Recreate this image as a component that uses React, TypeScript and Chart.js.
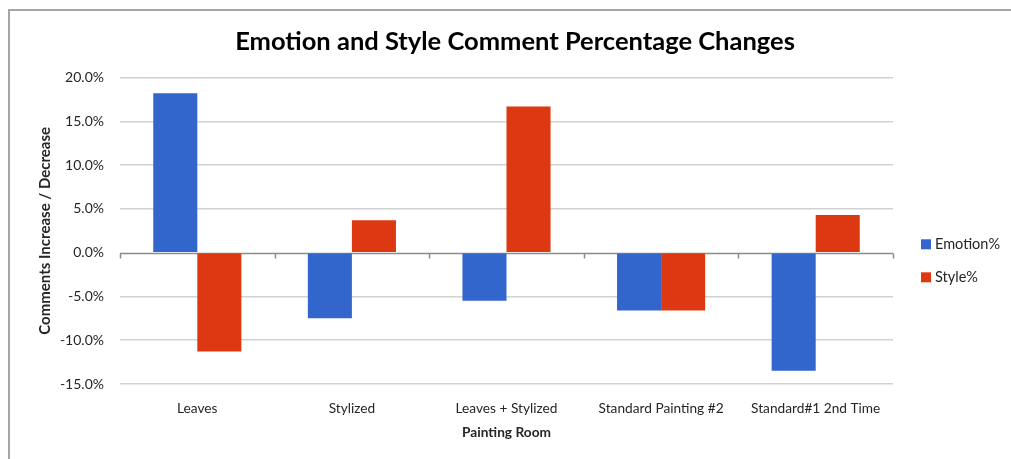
import React, { useEffect, useRef } from "react";
import { Chart, registerables } from "chart.js";

Chart.register(...registerables);

// Painting rooms on the category axis
const rooms = [
  "Leaves",
  "Stylized",
  "Leaves + Stylized",
  "Standard Painting #2",
  "Standard#1 2nd Time",
];

// Percentage change of comments per room
const emotionPct = [18.2, -7.5, -5.5, -6.6, -13.5];
const stylePct = [-11.3, 3.7, 16.7, -6.6, 4.3];

const seriesNames = ["Emotion%", "Style%"];
const seriesColors = ["#3366CC", "#DC3912"];

// Value axis range and step (percent)
const yRange = { min: -15, max: 20, step: 5 };

const FONT = "Lato, 'Open Sans', sans-serif";

// White page with a gray frame along the top and left edges
const frame = {
  id: "frame",
  beforeDraw(chart: any) {
    const { ctx, width, height } = chart;
    ctx.save();
    ctx.fillStyle = "#ffffff";
    ctx.fillRect(0, 0, width, height);
    ctx.strokeStyle = "#a6a6a6";
    ctx.lineWidth = 2;
    ctx.beginPath();
    ctx.moveTo(width, 10);
    ctx.lineTo(9, 10);
    ctx.lineTo(9, height);
    ctx.stroke();
    ctx.restore();
  },
};

// Zero line with small category-boundary ticks, drawn under the bars
const zeroAxis = {
  id: "zeroAxis",
  beforeDatasetsDraw(chart: any) {
    const { ctx, chartArea, scales } = chart;
    const x = scales.x;
    const y0 = Math.round(scales.y.getPixelForValue(0)) + 0.5;
    ctx.save();
    ctx.strokeStyle = "#8c8c8c";
    ctx.lineWidth = 1.5;
    ctx.beginPath();
    ctx.moveTo(chartArea.left, y0);
    ctx.lineTo(chartArea.right, y0);
    const n = chart.data.labels.length;
    const step = (chartArea.right - chartArea.left) / n;
    for (let i = 0; i <= n; i++) {
      const px = Math.round(x.left + i * step) + 0.5;
      ctx.moveTo(px, y0);
      ctx.lineTo(px, y0 + 5);
    }
    ctx.stroke();
    ctx.restore();
  },
};

// Legend column to the right of the plot
const sideLegend = {
  id: "sideLegend",
  afterDraw(chart: any) {
    const { ctx, chartArea } = chart;
    const midY = (chartArea.top + chartArea.bottom) / 2 + 30;
    const x = chartArea.right + 28;
    ctx.save();
    chart.data.datasets.forEach((ds: any, i: number) => {
      const y = midY + (i - 0.5) * 33;
      ctx.fillStyle = ds.backgroundColor;
      ctx.fillRect(x, y - 5, 10, 10);
      ctx.fillStyle = "#262626";
      ctx.font = `14.5px ${FONT}`;
      ctx.textBaseline = "middle";
      ctx.textAlign = "left";
      ctx.fillText(ds.label, x + 14, y + 0.5);
    });
    ctx.restore();
  },
};

export default function App() {
  const canvasRef = useRef<HTMLCanvasElement | null>(null);

  useEffect(() => {
    if (!canvasRef.current) return;
    const chart = new Chart(canvasRef.current, {
      type: "bar",
      data: {
        labels: rooms,
        datasets: [
          {
            label: seriesNames[0],
            data: emotionPct,
            backgroundColor: seriesColors[0],
            borderWidth: 0,
            categoryPercentage: 0.57,
            barPercentage: 1,
          },
          {
            label: seriesNames[1],
            data: stylePct,
            backgroundColor: seriesColors[1],
            borderWidth: 0,
            categoryPercentage: 0.57,
            barPercentage: 1,
          },
        ],
      },
      options: {
        responsive: false,
        animation: false,
        layout: { padding: { left: 19, right: 0, top: 0, bottom: 18 } },
        plugins: {
          legend: { display: false },
          tooltip: { enabled: false },
          title: {
            display: true,
            text: "Emotion and Style Comment Percentage Changes",
            color: "#000000",
            font: { family: FONT, size: 25.5, weight: "bold", lineHeight: 1.2 },
            padding: { top: 26, bottom: 21 },
          },
        },
        scales: {
          x: {
            afterFit(scale: any) {
              scale.height = 57;
            },
            grid: { display: false, drawTicks: false },
            border: { display: false },
            ticks: {
              color: "#262626",
              padding: 16,
              maxRotation: 0,
              autoSkip: false,
              font: { family: FONT, size: 13.7, lineHeight: 1.2 },
            },
            title: {
              display: true,
              text: "Painting Room",
              color: "#262626",
              font: { family: FONT, size: 13.7, weight: "bold", lineHeight: 1.2 },
              padding: { top: 9, bottom: 0 },
            },
          },
          y: {
            min: yRange.min,
            max: yRange.max,
            afterFit(scale: any) {
              scale.width = 101;
            },
            grid: {
              drawTicks: false,
              lineWidth: 1.5,
              color: (c: any) => (c.tick && c.tick.value === 0 ? "rgba(0,0,0,0)" : "#d2d2d2"),
            },
            border: { display: false },
            ticks: {
              stepSize: yRange.step,
              color: "#262626",
              padding: 16,
              font: { family: FONT, size: 14, lineHeight: 1.2 },
              callback: (v: any) => `${Number(v).toFixed(1)}%`,
            },
            title: {
              display: true,
              text: "Comments Increase / Decrease",
              color: "#262626",
              font: { family: FONT, size: 15, weight: "bold", lineHeight: 1.2 },
              padding: { top: 17, bottom: 0 },
            },
          },
          // empty right-hand band that holds the legend column
          legendBand: {
            type: "linear",
            position: "right",
            afterFit(scale: any) {
              scale.width = 118;
            },
            grid: { display: false, drawTicks: false },
            border: { display: false },
            ticks: { display: false },
          },
        },
      },
      plugins: [frame, zeroAxis, sideLegend],
    });
    return () => chart.destroy();
  }, []);

  return (
    <div
      style={{
        position: "fixed",
        left: 0,
        top: 0,
        width: 1011,
        height: 459,
        overflow: "hidden",
        background: "#ffffff",
      }}
    >
      <canvas
        ref={canvasRef}
        width={1011}
        height={459}
        style={{ display: "block", width: 1011, height: 459 }}
      />
    </div>
  );
}
